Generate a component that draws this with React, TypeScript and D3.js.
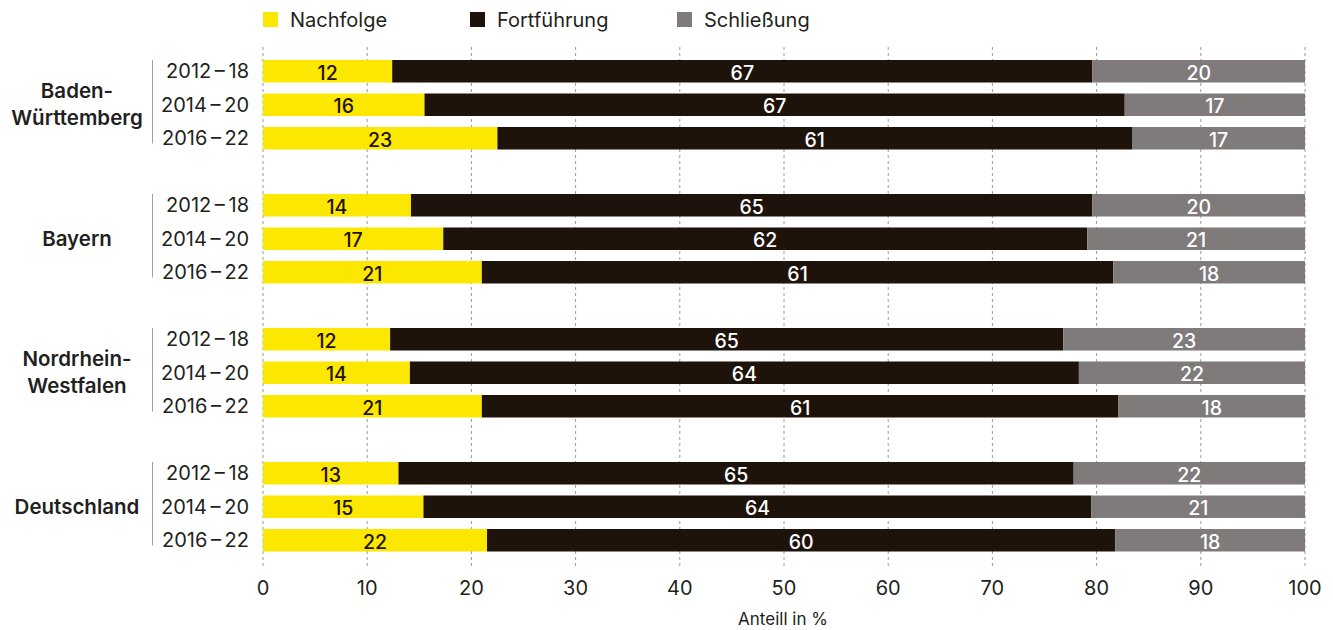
import React from "react";
import * as d3 from "d3";

const regions = [["Baden-", "Württemberg"], ["Bayern"], ["Nordrhein-", "Westfalen"], ["Deutschland"]];
const periods = ["2012\u2009–\u200918", "2014\u2009–\u200920", "2016\u2009–\u200922"];
const seriesNames = ["Nachfolge", "Fortführung", "Schließung"];
const nachfolge = [12.4, 15.5, 22.5, 14.2, 17.3, 21.0, 12.2, 14.1, 21.0, 13.0, 15.4, 21.5];
const fortfuehrung = [67.2, 67.2, 60.9, 65.4, 61.8, 60.6, 64.6, 64.2, 61.1, 64.8, 64.1, 60.3];
const schliessung = [20.4, 17.3, 16.6, 20.4, 20.9, 18.4, 23.2, 21.7, 17.9, 22.2, 20.5, 18.2];
const xTicks = [0, 10, 20, 30, 40, 50, 60, 70, 80, 90, 100];

const colors = ["#FBE700", "#1E130B", "#807B7B"];
const labelColors = ["#1E130B", "#FFFFFF", "#FFFFFF"];
const textColor = "#231F20";
const FONT = "Inter, 'Noto Sans', sans-serif";

export default function App() {
  const W = 1333, H = 630;
  const x = d3.scaleLinear().domain([0, 100]).range([263, 1305]);
  const groupTop = 60, groupStep = 134, rowStep = 33.5, barH = 22.5;
  const rows = regions.flatMap((r, gi) =>
    periods.map((p, pi) => ({ gi, pi, idx: gi * 3 + pi, y: groupTop + gi * groupStep + pi * rowStep }))
  );
  const series = [nachfolge, fortfuehrung, schliessung];
  const stackedData = rows.map((r) => ({ a: nachfolge[r.idx], b: fortfuehrung[r.idx], c: schliessung[r.idx] }));
  const stack = d3.stack<any>().keys(["a", "b", "c"])(stackedData as any);

  return (
    <div style={{ position: "absolute", left: 0, top: 0 }}>
      <svg width={W} height={H} style={{ display: "block", fontFamily: FONT }}>
        <rect width={W} height={H} fill="#fff" />
        {/* grid */}
        {xTicks.map((t) => (
          <line key={t} x1={x(t)} x2={x(t)} y1={47} y2={566} stroke="#9a9a9a" strokeWidth={1} strokeDasharray="3,3" />
        ))}
        {/* legend */}
        {seriesNames.map((n, i) => {
          const lx = [263, 470, 677][i];
          return (
            <g key={n}>
              <rect x={lx} y={12} width={15} height={15} fill={colors[i]} />
              <text x={lx + 27} y={20} dy="0.35em" fontSize={20} fill={textColor}>{n}</text>
            </g>
          );
        })}
        {/* bars */}
        {stack.map((layer, si) => (
          <g key={si}>
            {layer.map((d, ri) => {
              const r = rows[ri];
              const x0 = x(d[0]), x1 = x(d[1]);
              return (
                <g key={ri}>
                  <rect x={x0} y={r.y} width={x1 - x0} height={barH} fill={colors[si]} />
                  <text x={(x0 + x1) / 2} y={r.y + barH / 2 + 1.5} dy="0.35em" textAnchor="middle" fontSize={19.5}
                    fontWeight={500} fill={labelColors[si]}>
                    {Math.round(series[si][r.idx])}
                  </text>
                </g>
              );
            })}
          </g>
        ))}
        {/* row labels */}
        {rows.map((r) => (
          <text key={r.idx} x={249} y={r.y + barH / 2} dy="0.35em" textAnchor="end" fontSize={20} fill={textColor}>
            {periods[r.pi]}
          </text>
        ))}
        {/* group labels and separators */}
        {regions.map((lines, gi) => {
          const top = groupTop + gi * groupStep;
          const mid = top + rowStep + barH / 2;
          return (
            <g key={gi}>
              <line x1={152.5} x2={152.5} y1={top} y2={top + 2 * rowStep + barH - 6} stroke="#a0a0a0" strokeWidth={1} />
              {lines.map((l, li) => (
                <text key={li} x={77} y={mid + (li - (lines.length - 1) / 2) * 27} dy="0.35em" textAnchor="middle"
                  fontSize={20.5} fontWeight={600} fill={textColor}>
                  {l}
                </text>
              ))}
            </g>
          );
        })}
        {/* x axis ticks */}
        {xTicks.map((t) => (
          <text key={t} x={x(t)} y={588} dy="0.35em" textAnchor="middle" fontSize={20} fill={textColor}>{t}</text>
        ))}
        <text x={x(50) - 1} y={619} dy="0.35em" textAnchor="middle" fontSize={17} fill={textColor}>Anteill in %</text>
      </svg>
    </div>
  );
}
